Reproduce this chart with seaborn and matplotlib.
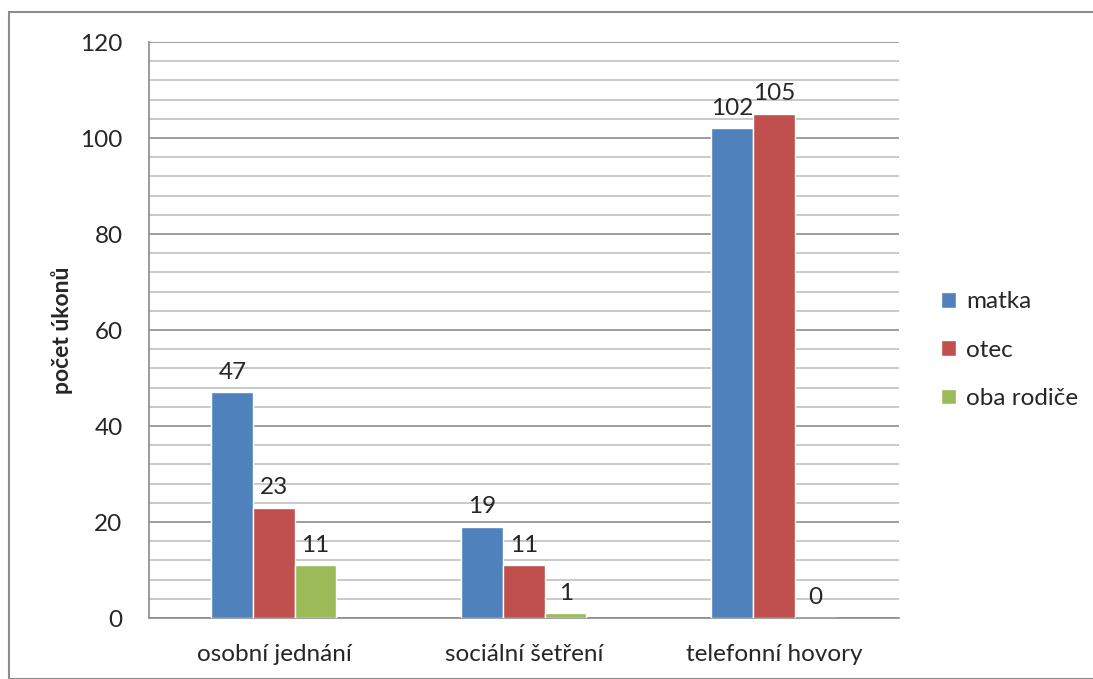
import pandas as pd
import numpy as np
import matplotlib.pyplot as plt
import seaborn as sns
from matplotlib.patches import Rectangle
from matplotlib.ticker import MultipleLocator

categories = ['osobní jednání', 'sociální šetření', 'telefonní hovory']
series = ['matka', 'otec', 'oba rodiče']
matka = [47, 19, 102]
otec = [23, 11, 105]
oba = [11, 1, 0]
colors = ['#4F81BD', '#C0504D', '#9BBB59']

df = pd.DataFrame({
    'kategorie': categories * 3,
    'rodic': [s for s in series for _ in categories],
    'pocet': matka + otec + oba,
})

sns.set_style('white')
plt.rcParams['font.family'] = ['Lato', 'DejaVu Sans']

fig = plt.figure(figsize=(10.93, 6.79), dpi=100)
ax = fig.add_axes([0.1363, 0.0898, 0.8225 - 0.1363, 0.9381 - 0.0898])

sns.barplot(data=df, x='kategorie', y='pocet', hue='rodic', palette=colors,
            width=0.5, saturation=1, ax=ax, zorder=3)

for cont in ax.containers:
    ax.bar_label(cont, padding=7, fontsize=17.5)

ax.set_ylim(0, 120)
ax.yaxis.set_major_locator(MultipleLocator(20))
ax.yaxis.set_minor_locator(MultipleLocator(4))
ax.grid(axis='y', which='major', color='#8c8c8c', linewidth=1.2, zorder=0)
ax.grid(axis='y', which='minor', color='#c0c0c0', linewidth=1.2, zorder=0)
ax.set_axisbelow(True)
ax.tick_params(axis='both', which='both', length=0, labelsize=17.5)
ax.tick_params(axis='y', pad=19)
ax.tick_params(axis='x', pad=19)
ax.set_xlabel('')
ax.set_ylabel('počet úkonů', fontsize=16.5, fontweight='bold', labelpad=5)

for side in ['top', 'right']:
    ax.spines[side].set_visible(False)
for side in ['left', 'bottom']:
    ax.spines[side].set_color('#8c8c8c')
    ax.spines[side].set_linewidth(1.2)

ax.legend(loc='center left', bbox_to_anchor=(1.043, 0.465), frameon=False,
          fontsize=17.5, handlelength=0.6, handleheight=0.6, handletextpad=0.45,
          labelspacing=1.12, borderaxespad=0)

fig.patches.append(Rectangle((9 / 1093, 0), 1.2, 1 - 12 / 679, transform=fig.transFigure,
                             fill=False, edgecolor='#8c8c8c', linewidth=1.5))

fig.savefig('out.png', dpi=100)
